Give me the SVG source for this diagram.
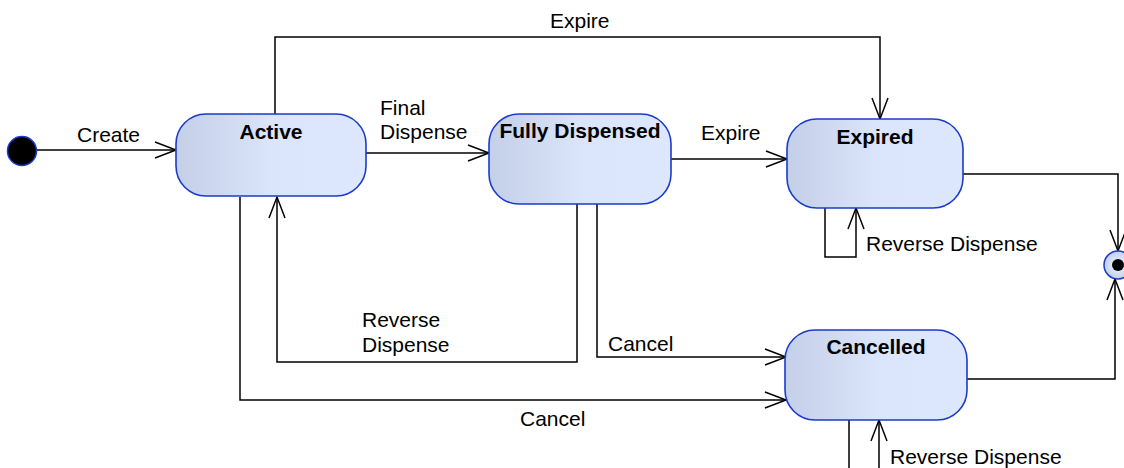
<svg xmlns="http://www.w3.org/2000/svg" width="1124" height="468" viewBox="0 0 1124 468">
  <defs>
    <linearGradient id="stateFill" x1="0" y1="0" x2="1" y2="0">
      <stop offset="0" stop-color="#c4cfe8"/>
      <stop offset="0.5" stop-color="#dae4fa"/>
      <stop offset="1" stop-color="#dde7fd"/>
    </linearGradient>
    <radialGradient id="finalFill" cx="0.5" cy="0.5" r="0.5">
      <stop offset="0.4" stop-color="#dde7fd"/>
      <stop offset="1" stop-color="#c4cfe8"/>
    </radialGradient>
    <marker id="open" markerUnits="userSpaceOnUse" markerWidth="26" markerHeight="20" viewBox="-23 -10 26 20" refX="0" refY="0" orient="auto" overflow="visible">
      <path d="M-21,-8 L0,0 L-21,8" fill="none" stroke="#000" stroke-width="1.5"/>
    </marker>
  </defs>
  <style>
    .state { fill: url(#stateFill); stroke: #1a3cc8; stroke-width: 1.6; }
    .title { font-family: "Liberation Sans", Arial, sans-serif; font-size: 21px; font-weight: bold; fill: #000; text-anchor: middle; }
    .label { font-family: "Liberation Sans", Arial, sans-serif; font-size: 21px; fill: #000; }
    .edge { fill: none; stroke: #000; stroke-width: 1.5; }
    .arrow { marker-end: url(#open); }
  </style>

  <rect width="1124" height="468" fill="#fff"/>

  <!-- transitions -->
  <g id="connectors">
    <path class="edge arrow" d="M37,150 H176"/>
    <path class="edge arrow" d="M366,153 H489"/>
    <path class="edge arrow" d="M275,114 V37 H880 V119"/>
    <path class="edge arrow" d="M671,159 H787"/>
    <path class="edge arrow" d="M963,174 H1118 V251"/>
    <path class="edge arrow" d="M967,379 H1115 V279"/>
    <path class="edge arrow" d="M825,208 V257 H856 V208"/>
    <path class="edge arrow" d="M849,420 V472 H879 V420"/>
    <path class="edge arrow" d="M577,204 V362 H277 V197"/>
    <path class="edge arrow" d="M597,204 V357 H786"/>
    <path class="edge arrow" d="M240,197 V400 H786"/>

    <text class="label" x="77" y="142">Create</text>
    <text class="label" x="380" y="115">Final</text>
    <text class="label" x="380" y="139">Dispense</text>
    <text class="label" x="550" y="28">Expire</text>
    <text class="label" x="701" y="140">Expire</text>
    <text class="label" x="866" y="251">Reverse Dispense</text>
    <text class="label" x="362" y="327">Reverse</text>
    <text class="label" x="362" y="352">Dispense</text>
    <text class="label" x="608" y="351">Cancel</text>
    <text class="label" x="520" y="426">Cancel</text>
    <text class="label" x="890" y="464">Reverse Dispense</text>
  </g>

  <g id="initial">
    <circle cx="22" cy="151" r="14.5" fill="#000" stroke="#1a3cc8" stroke-width="1.5"/>
  </g>

  <g id="active">
    <rect class="state" x="176" y="114" width="190" height="82" rx="30" ry="30"/>
    <text class="title" x="271" y="139">Active</text>
  </g>

  <g id="fully-dispensed">
    <rect class="state" x="489" y="114" width="182" height="90" rx="30" ry="30"/>
    <text class="title" x="580" y="138">Fully Dispensed</text>
  </g>

  <g id="expired">
    <rect class="state" x="787" y="119" width="176" height="89" rx="30" ry="30"/>
    <text class="title" x="875" y="144">Expired</text>
  </g>

  <g id="cancelled">
    <rect class="state" x="785" y="330" width="182" height="90" rx="30" ry="30"/>
    <text class="title" x="876" y="354">Cancelled</text>
  </g>

  <g id="final">
    <circle cx="1118" cy="265" r="14" fill="url(#finalFill)" stroke="#1a3cc8" stroke-width="1.5"/>
    <circle cx="1118" cy="265" r="6" fill="#000"/>
  </g>
</svg>
